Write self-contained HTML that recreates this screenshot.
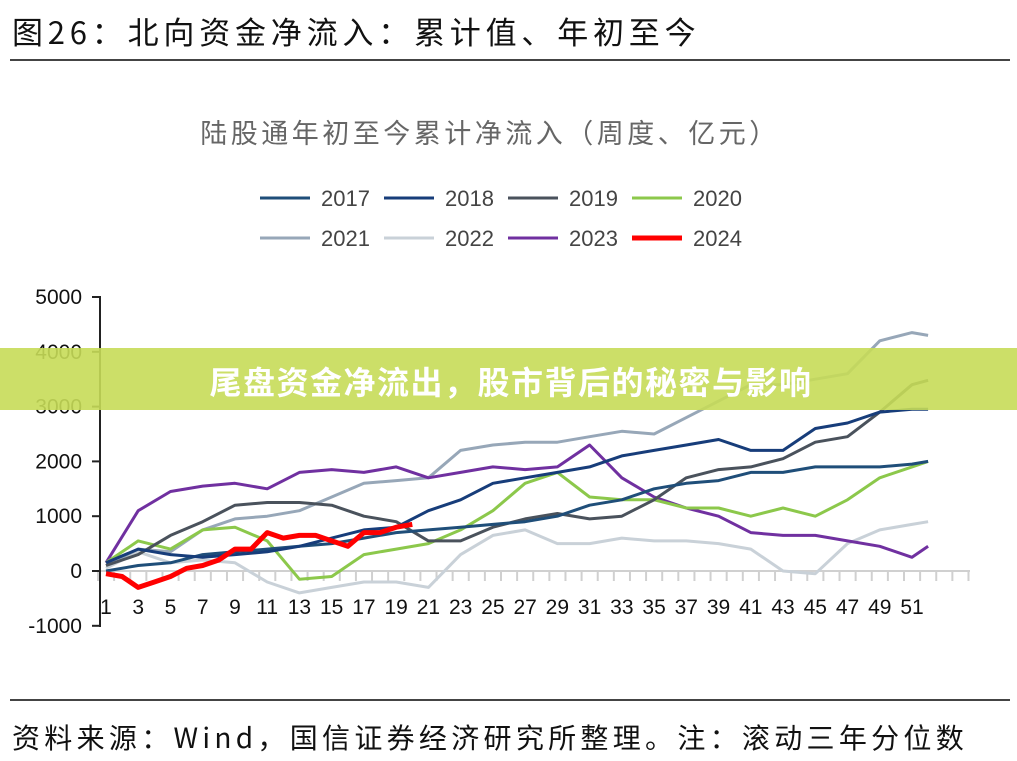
<!DOCTYPE html>
<html><head><meta charset="utf-8"><style>
body{margin:0;background:#fff;width:1017px;height:761px;overflow:hidden;position:relative;font-family:"Liberation Sans","Noto Sans CJK SC",sans-serif}
.abs{position:absolute;white-space:nowrap}
</style></head><body>
<div class="abs" style="left:12px;top:8px;font-size:31px;letter-spacing:4.8px;color:#111;font-family:'Noto Sans CJK SC',sans-serif">图26：北向资金净流入：累计值、年初至今</div>
<div class="abs" style="left:10px;top:59px;width:1000px;height:2px;background:#444"></div>
<svg class="abs" style="left:0;top:0" width="1017" height="761" id="chart">
<text x="490" y="143" text-anchor="middle" font-size="27" letter-spacing="3.5" fill="#666" font-family="Noto Sans CJK SC,sans-serif">陆股通年初至今累计净流入（周度、亿元）</text>
<g id="legend"></g><g id="axes"></g><g id="series"></g>
</svg>
<div class="abs" style="left:0;top:348px;width:1017px;height:62px;background:rgba(198,220,88,0.9)"></div>
<div class="abs" style="left:0;top:358px;width:1017px;text-align:center;font-size:32px;letter-spacing:1.5px;font-weight:bold;color:#fff;font-family:'Noto Sans CJK SC',sans-serif;text-indent:5px">尾盘资金净流出，股市背后的秘密与影响</div>
<div class="abs" style="left:10px;top:699px;width:1000px;height:2px;background:#444"></div>
<div class="abs" style="left:12px;top:717px;font-size:28px;letter-spacing:4.3px;color:#111;font-family:'Noto Sans CJK SC',sans-serif">资料来源：Wind，国信证券经济研究所整理。注：滚动三年分位数</div>
<script>
const weeks=[1,3,5,7,9,11,13,15,17,19,21,23,25,27,29,31,33,35,37,39,41,43,45,47,49,51,52];
const s2017=[0,100,150,300,350,400,450,500,600,700,750,800,850,900,1000,1200,1300,1500,1600,1650,1800,1800,1900,1900,1900,1950,2000];
const s2018=[150,400,300,250,300,350,450,600,750,800,1100,1300,1600,1700,1800,1900,2100,2200,2300,2400,2200,2200,2600,2700,2900,2950,2950];
const s2019=[100,300,650,900,1200,1250,1250,1200,1000,900,550,550,800,950,1050,950,1000,1300,1700,1850,1900,2050,2350,2450,2900,3400,3480];
const s2020=[150,550,400,750,800,550,-150,-100,300,400,500,750,1100,1600,1800,1350,1300,1300,1150,1150,1000,1150,1000,1300,1700,1900,2000];
const s2021=[100,400,350,750,950,1000,1100,1350,1600,1650,1700,2200,2300,2350,2350,2450,2550,2500,2800,3100,3400,3400,3500,3600,4200,4350,4300];
const s2022=[50,350,150,200,150,-200,-400,-300,-200,-200,-300,300,650,750,500,500,600,550,550,500,400,0,-50,500,750,850,900];
const s2023=[150,1100,1450,1550,1600,1500,1800,1850,1800,1900,1700,1800,1900,1850,1900,2300,1700,1350,1150,1000,700,650,650,550,450,250,450];
const weeks2024=[1,2,3,4,5,6,7,8,9,10,11,12,13,14,15,16,17,18,19,20];
const s2024=[-50,-100,-300,-200,-100,50,100,200,400,400,700,600,650,650,550,450,700,700,800,850];
const yTicks=[5000,4000,3000,2000,1000,0,-1000];
const xLabels=[1,3,5,7,9,11,13,15,17,19,21,23,25,27,29,31,33,35,37,39,41,43,45,47,49,51];
const names=["2017","2018","2019","2020","2021","2022","2023","2024"];
const colors=["#1f4e79","#173d7a","#4a525c","#8cc84b","#97a7b8","#c9d1d8","#7030a0","#ff0000"];
const NS="http://www.w3.org/2000/svg";
const X=w=>106+(w-1)*16.12, Y=v=>571-v*0.0548;
function mk(tag,attrs,parent){const e=document.createElementNS(NS,tag);for(const k in attrs)e.setAttribute(k,attrs[k]);parent.appendChild(e);return e;}
const axes=document.getElementById('axes');
let e=mk('line',{x1:100,y1:571,x2:970,y2:571,stroke:'#d0d0d0','stroke-width':2},axes);


for(let w=1;w<=55;w++){const t=mk('line',{x1:X(w)-8,y1:571,x2:X(w)-8,y2:581,stroke:'#d0d0d0','stroke-width':2},axes);

}
e=mk('line',{x1:100,y1:296,x2:100,y2:627,stroke:'#222','stroke-width':2},axes);


yTicks.forEach(v=>{const t=mk('line',{x1:92,y1:Y(v),x2:100,y2:Y(v),stroke:'#222','stroke-width':2},axes);


const l=mk('text',{x:82,y:Y(v)+7,'text-anchor':'end','font-size':21,fill:'#111'},axes);l.textContent=v;

});
xLabels.forEach(w=>{const l=mk('text',{x:X(w),y:614,'text-anchor':'middle','font-size':21,fill:'#111'},axes);l.textContent=w;

});
const data=[s2017,s2018,s2019,s2020,s2021,s2022,s2023];
const order=[5,4,6,3,2,0,1];
const sg=document.getElementById('series');
function path(ws,vs){let d='';ws.forEach((w,i)=>{d+=(i?'L':'M')+X(w).toFixed(1)+','+Y(vs[i]).toFixed(1);});return d;}
order.forEach(i=>{const p=mk('path',{d:path(weeks,data[i]),fill:'none',stroke:colors[i],'stroke-width':3,'stroke-linejoin':'round'},sg);

});
const r=mk('path',{d:path(weeks2024,s2024),fill:'none',stroke:colors[7],'stroke-width':5,'stroke-linejoin':'round'},sg);


const lg=document.getElementById('legend');
names.forEach((n,i)=>{const col=i%4,row=Math.floor(i/4);const x=260+col*124,y=198+row*40;
const g=mk('g',{},lg);


mk('line',{x1:x,y1:y,x2:x+50,y2:y,stroke:colors[i],'stroke-width':i==7?5:3},g);
const t=mk('text',{x:x+61,y:y+8,'font-size':22,fill:'#444'},g);t.textContent=n;});
</script>
</body></html>
